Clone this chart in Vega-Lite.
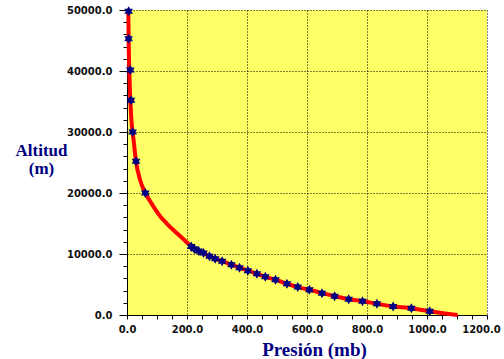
{
  "$schema": "https://vega.github.io/schema/vega-lite/v6.json",
  "width": 360,
  "height": 305,
  "autosize": {"type": "none"},
  "padding": {"left": 127, "top": 10, "right": 17, "bottom": 44},
  "background": "white",
  "config": {
    "view": {"fill": "#FFFF66", "stroke": null},
    "axis": {
      "domainColor": "black",
      "domainWidth": 1,
      "tickColor": "black",
      "tickWidth": 1,
      "labelFont": "DejaVu Sans",
      "labelFontWeight": "bold",
      "labelFontSize": 10,
      "labelColor": "#111111",
      "gridColor": "black",
      "gridDash": [1, 2],
      "gridWidth": 1,
      "titleFont": "Liberation Serif",
      "titleFontWeight": "bold",
      "titleColor": "#000080"
    }
  },
  "datasets": {
    "curve": [
      {"presion": 4.3, "altitud": 50000},
      {"presion": 5.5, "altitud": 45000},
      {"presion": 7.7, "altitud": 40000},
      {"presion": 14, "altitud": 32500},
      {"presion": 22, "altitud": 28650},
      {"presion": 30, "altitud": 25200},
      {"presion": 44, "altitud": 22100},
      {"presion": 61, "altitud": 20000},
      {"presion": 77.7, "altitud": 18600},
      {"presion": 94.3, "altitud": 17300},
      {"presion": 111, "altitud": 16150},
      {"presion": 131, "altitud": 15080},
      {"presion": 151, "altitud": 14100},
      {"presion": 171, "altitud": 13200},
      {"presion": 191, "altitud": 12300},
      {"presion": 214, "altitud": 11250},
      {"presion": 224, "altitud": 10870},
      {"presion": 239, "altitud": 10480},
      {"presion": 255, "altitud": 10150},
      {"presion": 275, "altitud": 9650},
      {"presion": 294, "altitud": 9230},
      {"presion": 317, "altitud": 8830},
      {"presion": 348, "altitud": 8240},
      {"presion": 375, "altitud": 7750},
      {"presion": 403, "altitud": 7260},
      {"presion": 433, "altitud": 6770},
      {"presion": 461, "altitud": 6270},
      {"presion": 495, "altitud": 5780},
      {"presion": 533, "altitud": 5120},
      {"presion": 569, "altitud": 4570},
      {"presion": 608, "altitud": 4140},
      {"presion": 650, "altitud": 3580},
      {"presion": 692, "altitud": 3090},
      {"presion": 739, "altitud": 2590},
      {"presion": 785, "altitud": 2270},
      {"presion": 833, "altitud": 1840},
      {"presion": 887, "altitud": 1400},
      {"presion": 948, "altitud": 1120},
      {"presion": 1009, "altitud": 620},
      {"presion": 1102, "altitud": 0}
    ],
    "stars": [
      {"presion": 5.3, "altitud": 49800},
      {"presion": 5.3, "altitud": 45300},
      {"presion": 11, "altitud": 40150},
      {"presion": 13.3, "altitud": 35200},
      {"presion": 18.7, "altitud": 30000},
      {"presion": 30, "altitud": 25200},
      {"presion": 61, "altitud": 20000},
      {"presion": 214, "altitud": 11250},
      {"presion": 224, "altitud": 10870},
      {"presion": 239, "altitud": 10480},
      {"presion": 255, "altitud": 10150},
      {"presion": 275, "altitud": 9650},
      {"presion": 294, "altitud": 9230},
      {"presion": 317, "altitud": 8830},
      {"presion": 348, "altitud": 8240},
      {"presion": 375, "altitud": 7750},
      {"presion": 403, "altitud": 7260},
      {"presion": 433, "altitud": 6770},
      {"presion": 461, "altitud": 6270},
      {"presion": 495, "altitud": 5780},
      {"presion": 533, "altitud": 5120},
      {"presion": 569, "altitud": 4570},
      {"presion": 608, "altitud": 4140},
      {"presion": 650, "altitud": 3580},
      {"presion": 692, "altitud": 3090},
      {"presion": 739, "altitud": 2590},
      {"presion": 785, "altitud": 2270},
      {"presion": 833, "altitud": 1840},
      {"presion": 887, "altitud": 1400},
      {"presion": 948, "altitud": 1120},
      {"presion": 1009, "altitud": 620}
    ]
  },
  "encoding": {
    "x": {
      "field": "presion",
      "type": "quantitative",
      "scale": {"domain": [0, 1200], "nice": false, "zero": false},
      "axis": {
        "values": [0, 50, 100, 150, 200, 250, 300, 350, 400, 450, 500, 550, 600, 650, 700, 750, 800, 850, 900, 950, 1000, 1050, 1100, 1150, 1200],
        "labelExpr": "datum.value % 200 === 0 ? format(datum.value, '.1f') : ''",
        "grid": true,
        "gridOpacity": {"condition": {"test": "datum.value % 200 === 0 && datum.value > 0", "value": 1}, "value": 0},
        "tickSize": 4,
        "labelPadding": 5,
        "labelOffset": {"condition": {"test": "datum.value === 1200", "value": -6}, "value": 0},
        "labelFlush": false,
        "labelOverlap": false,
        "title": "Presión (mb)",
        "titleFontSize": 19,
        "titleX": 187,
        "titleY": 40,
        "titleAlign": "center",
        "titleBaseline": "alphabetic",
        "titleAnchor": null
      }
    },
    "y": {
      "field": "altitud",
      "type": "quantitative",
      "scale": {"domain": [0, 50000], "nice": false, "zero": false},
      "axis": {
        "values": [0, 2000, 4000, 6000, 8000, 10000, 12000, 14000, 16000, 18000, 20000, 22000, 24000, 26000, 28000, 30000, 32000, 34000, 36000, 38000, 40000, 42000, 44000, 46000, 48000, 50000],
        "labelExpr": "datum.value % 10000 === 0 ? format(datum.value, '.1f') : ''",
        "grid": true,
        "gridOpacity": {"condition": {"test": "datum.value % 10000 === 0 && datum.value > 0", "value": 1}, "value": 0},
        "tickSize": {"condition": {"test": "datum.value % 10000 === 0", "value": 8}, "value": 4},
        "labelPadding": 7,
        "labelFlush": false,
        "labelOverlap": false,
        "title": ["Altitud", "(m)"],
        "titleFontSize": 17,
        "titleAngle": 0,
        "titleX": -86,
        "titleY": 145,
        "titleAlign": "center",
        "titleBaseline": "alphabetic",
        "titleLineHeight": 18,
        "titleAnchor": null
      }
    }
  },
  "layer": [
    {
      "data": {"name": "curve"},
      "mark": {"type": "line", "color": "#FF0000", "strokeWidth": 4, "interpolate": "monotone"}
    },
    {
      "data": {"name": "stars"},
      "mark": {
        "type": "point",
        "shape": "M0,-1L0.866,0.5L-0.866,0.5Z M0,1L-0.866,-0.5L0.866,-0.5Z",
        "filled": true,
        "color": "#000080",
        "opacity": 1,
        "size": 100
      }
    }
  ]
}
